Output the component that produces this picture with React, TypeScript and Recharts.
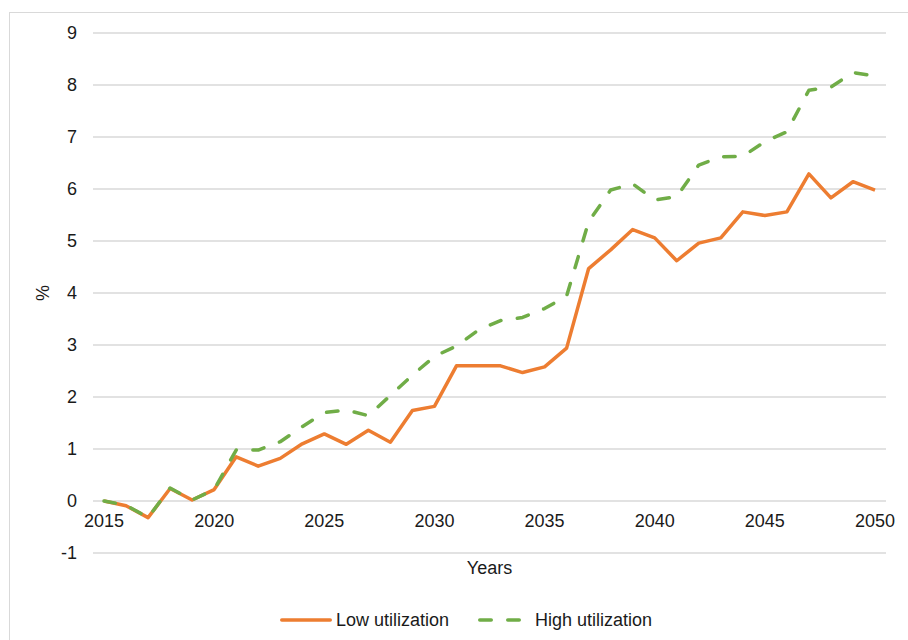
import { CartesianGrid, Label, Legend, Line, LineChart, XAxis, YAxis } from "recharts";

const years = [
  2015, 2016, 2017, 2018, 2019, 2020, 2021, 2022, 2023, 2024, 2025, 2026,
  2027, 2028, 2029, 2030, 2031, 2032, 2033, 2034, 2035, 2036, 2037, 2038,
  2039, 2040, 2041, 2042, 2043, 2044, 2045, 2046, 2047, 2048, 2049, 2050
];

const lowUtilization = [
  0, -0.09, -0.32, 0.24, 0.02, 0.22, 0.85, 0.67, 0.82, 1.1, 1.29, 1.09,
  1.36, 1.13, 1.74, 1.82, 2.6, 2.6, 2.6, 2.47, 2.58, 2.94, 4.47, 4.83,
  5.22, 5.06, 4.62, 4.96, 5.06, 5.56, 5.49, 5.56, 6.29, 5.83, 6.14, 5.98
];

const highUtilization = [
  0, -0.08, -0.32, 0.25, 0.02, 0.22, 0.98, 0.98, 1.14, 1.43, 1.7, 1.75,
  1.64, 2.03, 2.42, 2.78, 2.98, 3.29, 3.47, 3.53, 3.7, 3.94, 5.37, 5.98,
  6.1, 5.79, 5.85, 6.46, 6.62, 6.63, 6.91, 7.1, 7.9, 7.96, 8.24, 8.17
];

const seriesNames = ["Low utilization", "High utilization"];
const yearTicks = [2015, 2020, 2025, 2030, 2035, 2040, 2045, 2050];
const percentTicks = [-1, 0, 1, 2, 3, 4, 5, 6, 7, 8, 9];

const data = years.map((year, i) => ({
  year,
  low: lowUtilization[i],
  high: highUtilization[i]
}));

const FONT = '"Liberation Sans", Arial, sans-serif';
const TEXT = "#1a1a1a";
const ORANGE = "#ED7D31";
const GREEN = "#70AD47";
const DASH = "11.5 16.5";

// year labels sit on the zero line, like the Excel category axis
function YearTick({ x, y, payload }: any) {
  return (
    <text x={x} y={y - 26} textAnchor="middle" fontSize={18} fill={TEXT} fontFamily={FONT}>
      {payload.value}
    </text>
  );
}

function PercentLabel({ viewBox }: any) {
  const cx = viewBox.x + viewBox.width / 2 - 4;
  const cy = viewBox.y + viewBox.height / 2;
  return (
    <text
      x={cx}
      y={cy}
      transform={`rotate(-90 ${cx} ${cy})`}
      textAnchor="middle"
      dominantBaseline="central"
      fontSize={18}
      fill={TEXT}
      fontFamily={FONT}
    >
      %
    </text>
  );
}

function LegendContent({ payload }: any) {
  const items = [...(payload || [])].sort(
    (a: any, b: any) => seriesNames.indexOf(a.value) - seriesNames.indexOf(b.value)
  );
  return (
    <div
      style={{
        display: "flex",
        justifyContent: "center",
        alignItems: "center",
        height: 24,
        paddingLeft: 46,
        fontFamily: FONT,
        fontSize: 18,
        color: TEXT
      }}
    >
      {items.map((entry: any, i: number) => {
        const dashed = !!entry.payload?.strokeDasharray;
        return (
          <div key={entry.value} style={{ display: "flex", alignItems: "center", marginLeft: i ? 29 : 0 }}>
            <svg width={52} height={8}>
              <line
                x1={1.75}
                y1={4}
                x2={dashed ? 41.25 : 50.25}
                y2={4}
                stroke={entry.color}
                strokeWidth={3.5}
                strokeLinecap="round"
                strokeDasharray={dashed ? DASH : undefined}
              />
            </svg>
            <span style={{ marginLeft: dashed ? 5 : 4 }}>{entry.value}</span>
          </div>
        );
      })}
    </div>
  );
}

export default function App() {
  return (
    <div style={{ position: "fixed", inset: 0, overflow: "hidden", background: "#fff" }}>
      <div
        style={{
          position: "absolute",
          left: 9,
          top: 12,
          width: 1000,
          height: 1000,
          borderLeft: "1px solid #d9d9d9",
          borderTop: "1px solid #d9d9d9"
        }}
      />
      <div style={{ position: "absolute", left: 0, top: 0 }}>
        <LineChart
          width={908}
          height={640}
          data={data}
          margin={{ top: 33, right: 22, left: 0, bottom: 8 }}
        >
          <CartesianGrid vertical={false} stroke="#d9d9d9" strokeWidth={1.3} />

          <XAxis
            dataKey="year"
            type="number"
            domain={[2014.5, 2050.5]}
            ticks={yearTicks}
            interval={0}
            tickLine={false}
            axisLine={false}
            tickSize={0}
            tickMargin={0}
            height={55}
            tick={<YearTick />}
          >
            <Label
              value="Years"
              position="insideTop"
              offset={8}
              fontSize={18}
              fill={TEXT}
              fontFamily={FONT}
            />
          </XAxis>

          <YAxis
            domain={[-1, 9]}
            ticks={percentTicks}
            interval={0}
            tickLine={false}
            axisLine={false}
            tickSize={0}
            tickMargin={16}
            width={93}
            tick={{ fontSize: 18, fill: TEXT, fontFamily: FONT }}
          >
            <Label content={<PercentLabel />} />
          </YAxis>

          <Legend verticalAlign="bottom" content={<LegendContent />} />

          <Line
            name={seriesNames[0]}
            dataKey="low"
            type="linear"
            stroke={ORANGE}
            strokeWidth={3.5}
            strokeLinejoin="round"
            dot={false}
            activeDot={false}
            isAnimationActive={false}
          />
          <Line
            name={seriesNames[1]}
            dataKey="high"
            type="linear"
            stroke={GREEN}
            strokeWidth={3.5}
            strokeDasharray={DASH}
            strokeLinecap="round"
            strokeLinejoin="round"
            dot={false}
            activeDot={false}
            isAnimationActive={false}
          />
        </LineChart>
      </div>
    </div>
  );
}
